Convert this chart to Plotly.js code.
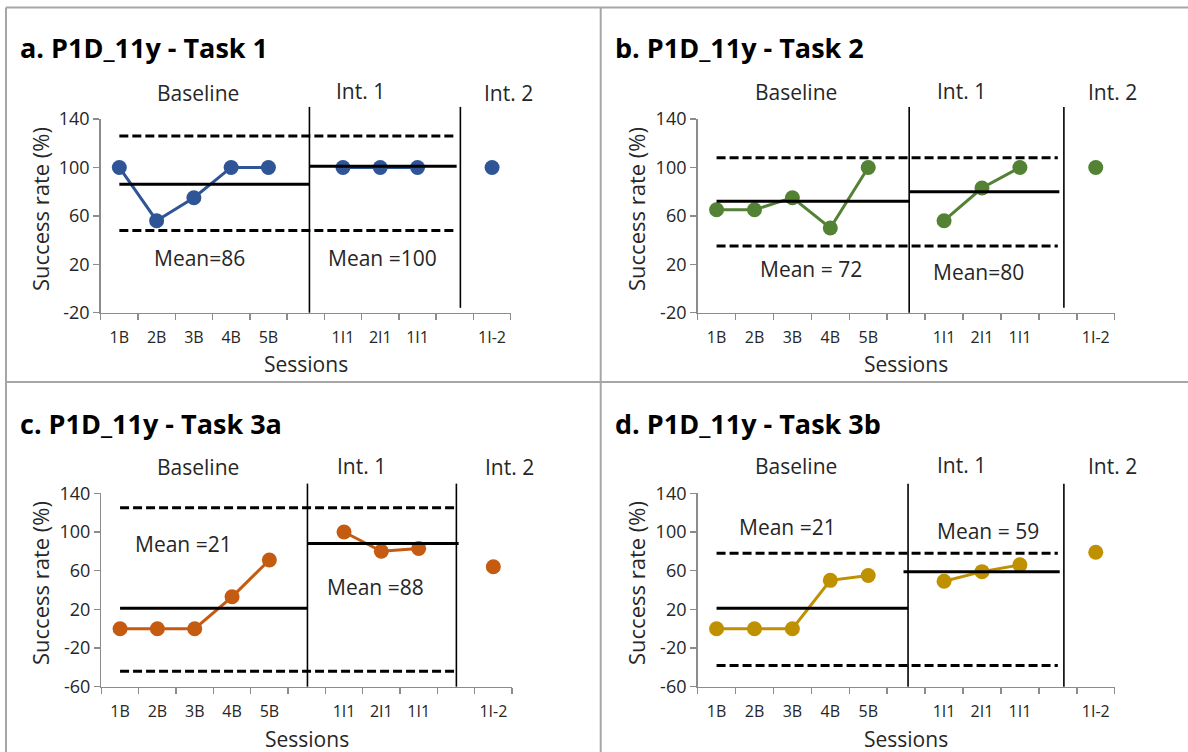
<!DOCTYPE html>
<html><head><meta charset="utf-8">
<script src="https://cdn.plot.ly/plotly-3.0.1.min.js"></script>
<style>html,body{margin:0;padding:0;background:#fff}#chart{width:1188px;height:752px}</style>
</head><body><div id="chart"></div>
<script>
// ---- data ----
const sessionLabels = ['1B','2B','3B','4B','5B','','1I1','2I1','1I1','','1I-2'];
const sessionIdx = [0,1,2,3,4,5,6,7,8,9,10];
const baselineX = [0,1,2,3,4];
const int1X = [6,7,8];
const int2X = [10];
const panelTitles = ['a. P1D_11y - Task 1','b. P1D_11y - Task 2','c. P1D_11y - Task 3a','d. P1D_11y - Task 3b'];
const baselineVals = [[100,56,75,100,100],[65,65,75,50,100],[0,0,0,33,71],[0,0,0,50,55]];
const int1Vals = [[100,100,100],[56,83,100],[100,80,83],[49,59,66]];
const int2Vals = [[100],[100],[64],[79]];
const baselineMean = [86,72,21,21];
const int1Mean = [101,80,88,59];
const upperBand = [126,108,125,78];
const lowerBand = [48,35,-44,-38];
const meanLabels = [['Mean=86','Mean =100'],['Mean = 72','Mean=80'],['Mean =21','Mean =88'],['Mean =21','Mean = 59']];
const phaseNames = ['Baseline','Int. 1','Int. 2'];
const yTicksTop = [-20,20,60,100,140];
const yTicksBottom = [-60,-20,20,60,100,140];
const yRanges = [[-20,140],[-20,140],[-60,140],[-60,140]];

// ---- layout / style config ----
const W = 1188, H = 752;
const colors = ['#2F5597','#548235','#C55A11','#BF9000'];
const boxes = [
  {x0:100.7, x1:510.7, yt:119, yb:312.7},
  {x0:697.6, x1:1114.7, yt:119, yb:312.7},
  {x0:101.4, x1:512, yt:493.3, yb:686.7},
  {x0:697.6, x1:1114.7, yt:493.3, yb:686.7}
];
const phase1At = [5.1, 5.08, 5.02, 5.05];
const phase2At = [9.15, 9.16, 9.01, 9.16];
const phaseTop = 150;
const phase2Bottom = [-16, -16, -60, -60];
const int1MeanStart = [5.1, 5.08, 5.02, 4.93];
const int1MeanEnd = [9.05, 9.04, 9.07, 9.05];
const bandEnd = [8.97, 9.0, 8.95, 9.0];
const meanLabelPos = [[[2.16,25],[7.07,25]], [[2.5,16],[6.92,14]], [[1.7,88],[6.83,43]], [[1.87,105],[7.17,101]]];
const phaseLabelX = [2.1, 6.46, 10.44];
const phaseLabelPxY = [[93, 90.7, 93], [92, 90.7, 92], [467, 466, 467], [466, 465, 466]];
const titlePos = [[18,47],[613,47],[18,423],[613,423]];
const yTitlePos = [[40,209],[636,209],[40,583],[636,583]];
const xTitleY = [364, 364, 739, 739];

const FONT = '"Open Sans", "Noto Sans", sans-serif';
const TXT = '#262626';
const AXC = '#8c8c8c';

const traces = [];
const layout = {
  width: W, height: H, margin: {l:0, r:0, t:0, b:0},
  paper_bgcolor: '#fff', plot_bgcolor: 'rgba(0,0,0,0)',
  showlegend: false, annotations: [], shapes: [],
  font: {family: FONT, color: TXT}
};

const bounds = sessionIdx.map(v => v - 0.5).concat([10.5]);

for (let i = 0; i < 4; i++) {
  const n = i + 1;
  const xa = 'x' + n, ya = 'y' + n;
  const b = boxes[i];
  const col = colors[i];
  const yt = i < 2 ? yTicksTop : yTicksBottom;
  layout['xaxis' + n] = {
    domain: [b.x0 / W, b.x1 / W], anchor: ya, range: [-0.5, 10.5],
    tickmode: 'array', tickvals: sessionIdx, ticktext: sessionLabels,
    ticks: 'outside', ticklen: 10, tickcolor: 'rgba(0,0,0,0)',
    minor: {tickmode: 'array', tickvals: bounds, ticks: 'outside', ticklen: 6, tickcolor: AXC, tickwidth: 1.5, showgrid: false},
    showline: true, linecolor: AXC, linewidth: 1.5, showgrid: false, zeroline: false,
    tickfont: {family: FONT, size: 16, color: TXT}, fixedrange: true
  };
  layout['yaxis' + n] = {
    domain: [1 - b.yb / H, 1 - b.yt / H], anchor: xa, range: yRanges[i],
    tickmode: 'array', tickvals: yt, ticktext: yt.map(v => String(v)),
    ticks: 'outside', ticklen: 6, tickcolor: AXC, tickwidth: 1.5,
    showline: true, linecolor: AXC, linewidth: 1.5, showgrid: false, zeroline: false,
    tickfont: {family: FONT, size: 18, color: TXT}, fixedrange: true
  };

  // data series
  const mk = {color: col, size: 15};
  traces.push({x: baselineX, y: baselineVals[i], xaxis: xa, yaxis: ya, mode: 'lines+markers', line: {color: col, width: 3}, marker: mk});
  traces.push({x: int1X, y: int1Vals[i], xaxis: xa, yaxis: ya, mode: 'lines+markers', line: {color: col, width: 3}, marker: mk});
  traces.push({x: int2X, y: int2Vals[i], xaxis: xa, yaxis: ya, mode: 'markers', marker: mk});

  // bands and means
  const dashL = {color: '#000', width: 3, dash: '9px,4px'};
  traces.push({x: [0, bandEnd[i]], y: [upperBand[i], upperBand[i]], xaxis: xa, yaxis: ya, mode: 'lines', line: dashL});
  traces.push({x: [0, bandEnd[i]], y: [lowerBand[i], lowerBand[i]], xaxis: xa, yaxis: ya, mode: 'lines', line: dashL});
  traces.push({x: [0, phase1At[i]], y: [baselineMean[i], baselineMean[i]], xaxis: xa, yaxis: ya, mode: 'lines', line: {color: '#000', width: 3}});
  traces.push({x: [int1MeanStart[i], int1MeanEnd[i]], y: [int1Mean[i], int1Mean[i]], xaxis: xa, yaxis: ya, mode: 'lines', line: {color: '#000', width: 3}});

  // phase change lines (extend above plot area)
  const r = yRanges[i];
  const toDom = v => (v - r[0]) / (r[1] - r[0]);
  layout.shapes.push({type: 'line', xref: xa, yref: ya + ' domain', x0: phase1At[i], x1: phase1At[i], y0: 0, y1: toDom(phaseTop), line: {color: '#000', width: 1.6}, layer: 'above'});
  layout.shapes.push({type: 'line', xref: xa, yref: ya + ' domain', x0: phase2At[i], x1: phase2At[i], y0: toDom(phase2Bottom[i]), y1: toDom(phaseTop), line: {color: '#000', width: 1.6}, layer: 'above'});

  // phase labels (above the plot area, so y in paper units)
  phaseNames.forEach((t, k) => layout.annotations.push({text: t, xref: xa, yref: 'paper', x: phaseLabelX[k], y: 1 - phaseLabelPxY[i][k] / H, showarrow: false, font: {family: FONT, size: 21, color: TXT}, xanchor: 'center', yanchor: 'middle'}));
  // mean labels
  meanLabels[i].forEach((t, k) => layout.annotations.push({text: t, xref: xa, yref: ya, x: meanLabelPos[i][k][0], y: meanLabelPos[i][k][1], showarrow: false, font: {family: FONT, size: 21, color: TXT}, xanchor: 'center', yanchor: 'middle'}));
  // title
  layout.annotations.push({text: '<b>' + panelTitles[i] + '</b>', xref: 'paper', yref: 'paper', x: titlePos[i][0] / W, y: 1 - titlePos[i][1] / H, xanchor: 'left', yanchor: 'middle', showarrow: false, font: {family: FONT, size: 27, color: '#000'}});
  // axis titles
  layout.annotations.push({text: 'Success rate (%)', xref: 'paper', yref: 'paper', x: yTitlePos[i][0] / W, y: 1 - yTitlePos[i][1] / H, textangle: -90, xanchor: 'center', yanchor: 'middle', showarrow: false, font: {family: FONT, size: 22, color: TXT}});
  layout.annotations.push({text: 'Sessions', xref: 'paper', yref: 'paper', x: (b.x0 + b.x1) / 2 / W, y: 1 - xTitleY[i] / H, xanchor: 'center', yanchor: 'middle', showarrow: false, font: {family: FONT, size: 21, color: TXT}});
}

// panel borders
const BC = '#a6a6a6';
[[6, 7.5, 6, H], [600.7, 7.5, 600.7, H], [6, 7.5, W, 7.5], [6, 382, W, 382]].forEach(s => {
  layout.shapes.push({type: 'line', xref: 'paper', yref: 'paper', x0: s[0] / W, x1: s[2] / W, y0: 1 - s[1] / H, y1: 1 - s[3] / H, line: {color: BC, width: 2}, layer: 'below'});
});

Plotly.newPlot('chart', traces, layout, {displayModeBar: false, staticPlot: true});
</script>
</body></html>
